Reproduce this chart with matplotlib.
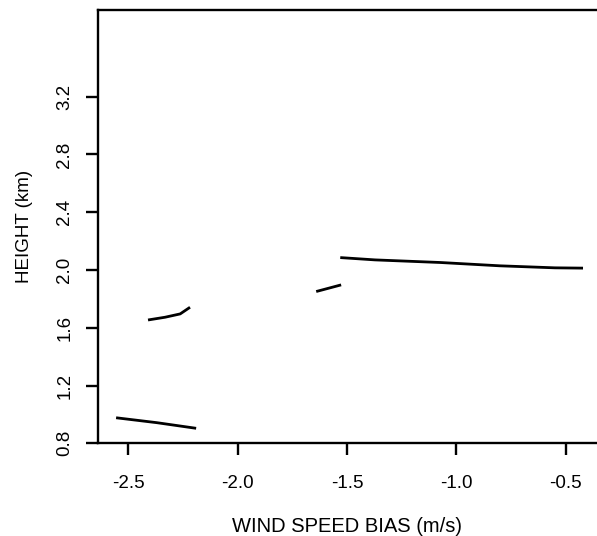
import numpy as np
import matplotlib
matplotlib.use("Agg")
import matplotlib.pyplot as plt

plt.rcParams['font.family'] = ['Liberation Sans', 'DejaVu Sans']

# wind speed bias (m/s) vs height (km), broken into separate pieces
seg1_bias = [-2.556, -2.370, -2.190]
seg1_height = [0.977, 0.943, 0.904]

seg2_bias = [-2.410, -2.332, -2.263, -2.218]
seg2_height = [1.654, 1.673, 1.696, 1.742]

seg3_bias = [-1.641, -1.527]
seg3_height = [1.851, 1.897]

seg4_bias = [-1.531, -1.372, -1.074, -0.801, -0.549, -0.421]
seg4_height = [2.086, 2.070, 2.052, 2.029, 2.015, 2.013]

segments = [(seg1_bias, seg1_height), (seg2_bias, seg2_height),
            (seg3_bias, seg3_height), (seg4_bias, seg4_height)]

xticks = [-2.5, -2.0, -1.5, -1.0, -0.5]
yticks = [0.8, 1.2, 1.6, 2.0, 2.4, 2.8, 3.2]

fig = plt.figure(figsize=(5.97, 5.36), dpi=100)
ax = fig.add_axes([0.1637, 0.1729, 1.0 - 0.1637, 0.9813 - 0.1729])

for bx, hy in segments:
    ax.plot(bx, hy, color='black', linewidth=2.0, solid_capstyle='butt')

ax.set_xlim(-2.64, -0.357)
ax.set_ylim(0.8, 3.8)
ax.set_xticks(xticks)
ax.set_xticklabels([f'{v:.1f}' for v in xticks])
ax.set_yticks(yticks)
ax.set_yticklabels([f'{v:.1f}' for v in yticks], rotation=90, va='center')

for side in ['left', 'bottom', 'top']:
    ax.spines[side].set_linewidth(1.7)
ax.spines['right'].set_visible(False)

ax.tick_params(direction='out', length=8.5, width=1.7, labelsize=13.5, pad=14)
ax.tick_params(axis='y', pad=9)

ax.set_xlabel('WIND SPEED BIAS (m/s)', fontsize=14.5, labelpad=18)
ax.set_ylabel('HEIGHT (km)', fontsize=13.5, labelpad=17)

fig.savefig('out.png', dpi=100)
